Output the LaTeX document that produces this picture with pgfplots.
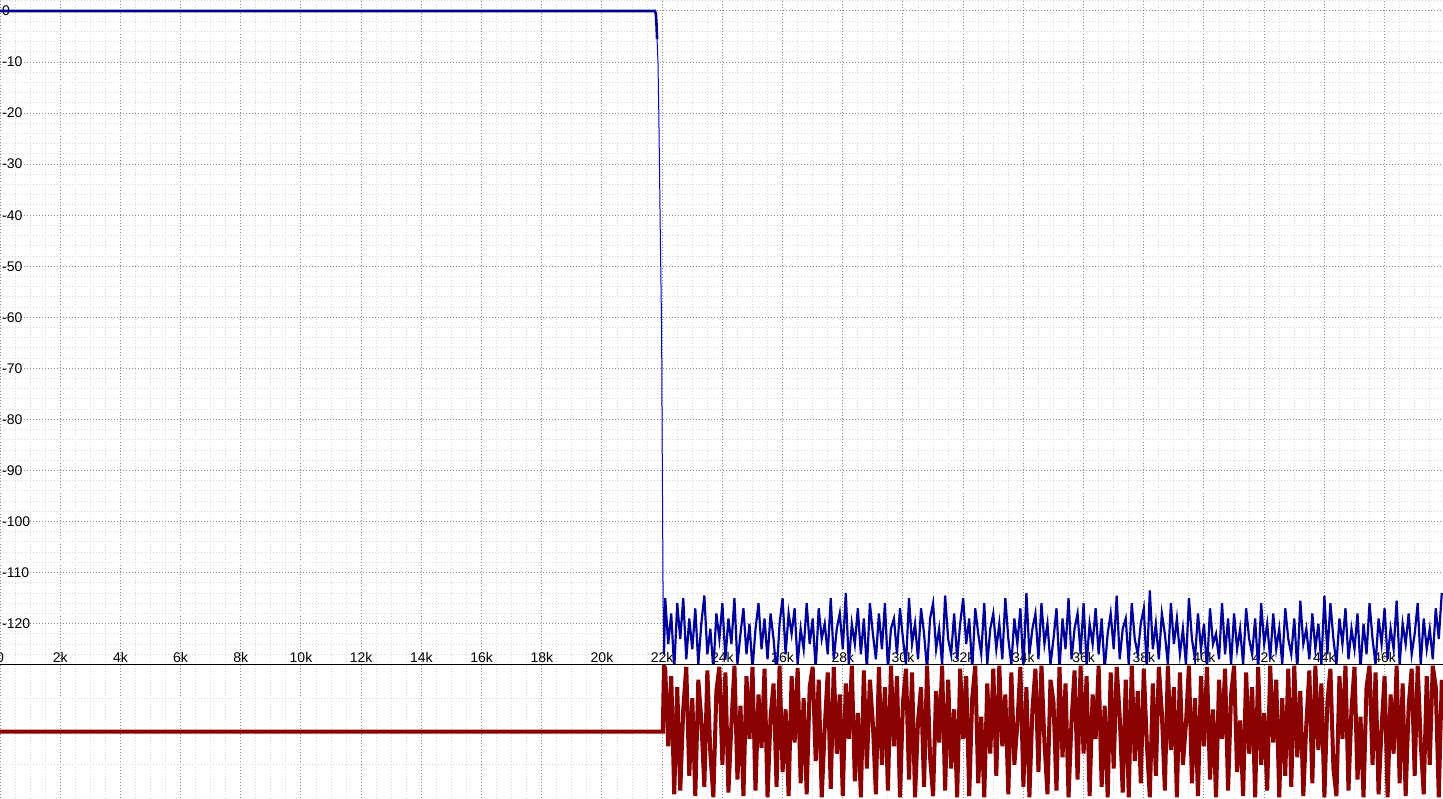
\documentclass[border=0pt]{standalone}
\usepackage{fontspec}
\setmainfont{Liberation Sans}
\usepackage{pgfplots}
\pgfplotsset{compat=1.18}
\definecolor{navyline}{RGB}{0,0,140}
\definecolor{darkred}{RGB}{139,0,0}
\definecolor{majgrid}{RGB}{140,140,140}
\definecolor{mingrid}{RGB}{215,215,215}
\begin{document}
\begin{tikzpicture}
\pgfplotsset{
  common/.style={
    scale only axis, width=1443pt, xmin=0, xmax=47940,
    axis line style={draw=none},
    major tick length=0pt, minor tick length=0pt,
    scaled ticks=false,
    grid=both,
    major grid style={line width=1pt, dash pattern=on 1pt off 2pt, color=majgrid},
    minor grid style={line width=1pt, dash pattern=on 1pt off 2pt, color=mingrid},
    xtick={0,2000,...,46000},
    minor xtick={500,1000,...,47500},
    tick label style={font=\fontsize{14}{16}\selectfont, text=black},
    clip=true,
  }
}
% ---------- magnitude ----------
\begin{axis}[common, at={(0pt,133pt)}, anchor=south west, height=665pt,
  ymin=-128.1, ymax=2.15,
  ytick={-120,-110,...,0},
  yticklabels={-120,-110,-100,-90,-80,-70,-60,-50,-40,-30,-20,-10,0},
  minor ytick={-128,-126,...,2},
  xticklabels={0,2k,4k,6k,8k,10k,12k,14k,16k,18k,20k,22k,24k,26k,28k,30k,32k,34k,36k,38k,40k,42k,44k,46k},
  xticklabel style={anchor=south, inner sep=2pt},
  yticklabel style={anchor=west, inner sep=2pt},
]
\addplot[navyline, line width=2.6pt] coordinates {(0,0) (21760,0) (21790,-0.6) (21810,-2.5) (21830,-5.5)};
\addplot[blue!55!navyline, line width=1pt] coordinates {(21830,-5.5) (21860,-10) (21890,-21) (21940,-45) (21980,-62) (22000,-85) (22030,-115) (22060,-126)};
\addplot[navyline!85!blue, line width=2.2pt] coordinates {
(22060,-126) (22100,-115) (22200,-124) (22300,-118) (22400,-129) (22500,-116) (22600,-123) (22700,-115) (22800,-127) (22900,-119)
(23000,-125) (23100,-117) (23200,-128) (23300,-120) (23400,-114.5) (23500,-126) (23600,-121) (23700,-129) (23800,-118) (23900,-123)
(24000,-116) (24100,-127) (24200,-119) (24300,-124) (24400,-115) (24500,-128) (24600,-122) (24700,-117) (24800,-126) (24900,-120)
(25000,-129) (25100,-121) (25200,-116) (25300,-125) (25400,-119) (25500,-127) (25600,-118) (25700,-123) (25800,-130) (25900,-120)
(26000,-115) (26100,-126) (26200,-118) (26300,-122) (26400,-117) (26500,-128) (26600,-121) (26700,-125) (26800,-116) (26900,-124)
(27000,-119) (27100,-129) (27200,-117) (27300,-123) (27400,-120) (27500,-126) (27600,-115) (27700,-127) (27800,-121) (27900,-118)
(28000,-125) (28100,-114) (28200,-128) (28300,-120) (28400,-124) (28500,-117) (28600,-126) (28700,-119) (28800,-129) (28900,-116)
(29000,-122) (29100,-127) (29200,-118) (29300,-125) (29400,-116) (29500,-129) (29600,-121) (29700,-119) (29800,-126) (29900,-117)
(30000,-123) (30100,-128) (30200,-115) (30300,-124) (30400,-120) (30500,-127) (30600,-117) (30700,-122) (30800,-129) (30900,-119)
(31000,-116) (31100,-125) (31200,-121) (31300,-128) (31400,-114.5) (31500,-123) (31600,-126) (31700,-118) (31800,-127) (31900,-120)
(32000,-115) (32100,-124) (32200,-119) (32300,-129) (32400,-117) (32500,-122) (32600,-126) (32700,-116) (32800,-128) (32900,-121)
(33000,-118) (33100,-125) (33200,-120) (33300,-127) (33400,-115) (33500,-123) (33600,-128) (33700,-119) (33800,-124) (33900,-117)
(34000,-129) (34100,-114) (34200,-126) (34300,-121) (34400,-118) (34500,-127) (34600,-116) (34700,-124) (34800,-120) (34900,-128)
(35000,-123) (35100,-117) (35200,-129) (35300,-119) (35400,-125) (35500,-115) (35600,-127) (35700,-121) (35800,-118) (35900,-126)
(36000,-116) (36100,-128) (36200,-120) (36300,-124) (36400,-117) (36500,-126) (36600,-119) (36700,-129) (36800,-122) (36900,-118)
(37000,-125) (37100,-114.5) (37200,-127) (37300,-121) (37400,-119) (37500,-128) (37600,-116) (37700,-123) (37800,-126) (37900,-120)
(38000,-117) (38100,-129) (38200,-113.5) (38300,-125) (38400,-120) (38500,-127) (38600,-118) (38700,-122) (38800,-128) (38900,-116)
(39000,-124) (39100,-119) (39200,-126) (39300,-121) (39400,-128) (39500,-115) (39600,-123) (39700,-127) (39800,-118) (39900,-125)
(40000,-120) (40100,-129) (40200,-117) (40300,-124) (40400,-122) (40500,-127) (40600,-116) (40700,-126) (40800,-119) (40900,-128)
(41000,-118) (41100,-125) (41200,-121) (41300,-128) (41400,-117) (41500,-123) (41600,-126) (41700,-119) (41800,-129) (41900,-116)
(42000,-124) (42100,-120) (42200,-127) (42300,-118) (42400,-125) (42500,-121) (42600,-128) (42700,-117) (42800,-123) (42900,-126)
(43000,-119) (43100,-129) (43200,-115.5) (43300,-124) (43400,-121) (43500,-127) (43600,-118) (43700,-125) (43800,-120) (43900,-128)
(44000,-114.5) (44100,-126) (44200,-116) (44300,-123) (44400,-128) (44500,-119) (44600,-124) (44700,-117) (44800,-127) (44900,-121)
(45000,-125) (45100,-118) (45200,-129) (45300,-120) (45400,-126) (45500,-116) (45600,-123) (45700,-128) (45800,-119) (45900,-124)
(46000,-117) (46100,-127) (46200,-121) (46300,-125) (46400,-115.5) (46500,-128) (46600,-120) (46700,-124) (46800,-118) (46900,-126)
(47000,-122) (47100,-116) (47200,-128) (47300,-119) (47400,-125) (47500,-121) (47600,-127) (47700,-117) (47800,-123) (47900,-114)
};
\draw[black, line width=1.3pt] (rel axis cs:0,0) -- (rel axis cs:1,0);
\end{axis}
% ---------- phase ----------
\begin{axis}[common, at={(0pt,0pt)}, anchor=south west, height=133pt,
  ymin=-180, ymax=180,
  ytick={-90,90}, yticklabels={},
  minor ytick={},
  xticklabels={},
  y grid style={line width=1pt, dash pattern=on 1pt off 2pt, color=mingrid},
  extra y ticks={0}, extra y tick labels={},
  extra y tick style={grid=major, major grid style={solid, line width=1.5pt, color=black!22}},
]
\addplot[darkred, line width=4pt] coordinates {
(0,0) (22020,0) (22060,178) (22100,170) (22200,-40) (22300,150) (22400,-170) (22500,120) (22600,-160) (22700,60) (22800,175) (22900,-120)
(23000,90) (23100,-175) (23200,140) (23300,30) (23400,-150) (23500,165) (23600,-60) (23700,-178) (23800,110) (23900,175)
(24000,-90) (24100,160) (24200,-165) (24300,20) (24400,178) (24500,-130) (24600,70) (24700,-175) (24800,150) (24900,-20)
(25000,175) (25100,-160) (25200,100) (25300,-45) (25400,170) (25500,-178) (25600,40) (25700,130) (25800,-150) (25900,178)
(26000,-110) (26100,60) (26200,-175) (26300,150) (26400,-30) (26500,172) (26600,-140) (26700,90) (26800,-170) (26900,120)
(27000,175) (27100,-80) (27200,140) (27300,-178) (27400,10) (27500,160) (27600,-155) (27700,175) (27800,-60) (27900,100)
(28000,-175) (28100,130) (28200,-20) (28300,178) (28400,-135) (28500,50) (28600,-178) (28700,165) (28800,-100) (28900,140)
(29000,20) (29100,-170) (29200,175) (29300,-90) (29400,120) (29500,-160) (29600,178) (29700,-40) (29800,150) (29900,-178)
(30000,80) (30100,170) (30200,-130) (30300,160) (30400,-178) (30500,30) (30600,120) (30700,-150) (30800,178) (30900,-70)
(31000,-175) (31100,110) (31200,-30) (31300,178) (31400,-160) (31500,140) (31600,-100) (31700,60) (31800,-178) (31900,170)
(32000,-20) (32100,150) (32200,-175) (32300,90) (32400,178) (32500,-140) (32600,40) (32700,-178) (32800,130) (32900,-60)
(33000,170) (33100,-120) (33200,178) (33300,-40) (33400,100) (33500,-170) (33600,160) (33700,-90) (33800,20) (33900,175)
(34000,-150) (34100,120) (34200,-178) (34300,60) (34400,170) (34500,-110) (34600,178) (34700,-30) (34800,-170) (34900,140)
(35000,80) (35100,-160) (35200,175) (35300,-70) (35400,130) (35500,-178) (35600,30) (35700,165) (35800,-130) (35900,178)
(36000,-60) (36100,150) (36200,-175) (36300,100) (36400,-20) (36500,178) (36600,-150) (36700,70) (36800,-178) (36900,160)
(37000,-100) (37100,175) (37200,40) (37300,-165) (37400,140) (37500,-178) (37600,178) (37700,-80) (37800,110) (37900,-140)
(38000,170) (38100,-30) (38200,-178) (38300,130) (38400,-120) (38500,175) (38600,50) (38700,-160) (38800,178) (38900,-50)
(39000,120) (39100,-178) (39200,160) (39300,-90) (39400,20) (39500,178) (39600,-140) (39700,90) (39800,-175) (39900,150)
(40000,-40) (40100,175) (40200,-130) (40300,60) (40400,-178) (40500,140) (40600,-20) (40700,170) (40800,-160) (40900,100)
(41000,178) (41100,-110) (41200,30) (41300,-175) (41400,160) (41500,-60) (41600,120) (41700,-178) (41800,175) (41900,-90)
(42000,50) (42100,-160) (42200,178) (42300,-30) (42400,140) (42500,-178) (42600,90) (42700,-120) (42800,170) (42900,-150)
(43000,178) (43100,-70) (43200,110) (43300,-175) (43400,20) (43500,165) (43600,-140) (43700,178) (43800,-50) (43900,130)
(44000,-178) (44100,80) (44200,170) (44300,-100) (44400,-175) (44500,150) (44600,-20) (44700,178) (44800,-160) (44900,60)
(45000,175) (45100,-130) (45200,40) (45300,-178) (45400,120) (45500,178) (45600,-90) (45700,160) (45800,-170) (45900,10)
(46000,150) (46100,-178) (46200,100) (46300,-60) (46400,178) (46500,-140) (46600,130) (46700,-175) (46800,70) (46900,170)
(47000,-120) (47100,178) (47200,-30) (47300,-170) (47400,150) (47500,-90) (47600,178) (47700,120) (47800,-178) (47900,140)
};
\end{axis}
\pgfresetboundingbox
\path[use as bounding box] (0pt,0pt) rectangle (1443pt,798pt);
\end{tikzpicture}
\end{document}
